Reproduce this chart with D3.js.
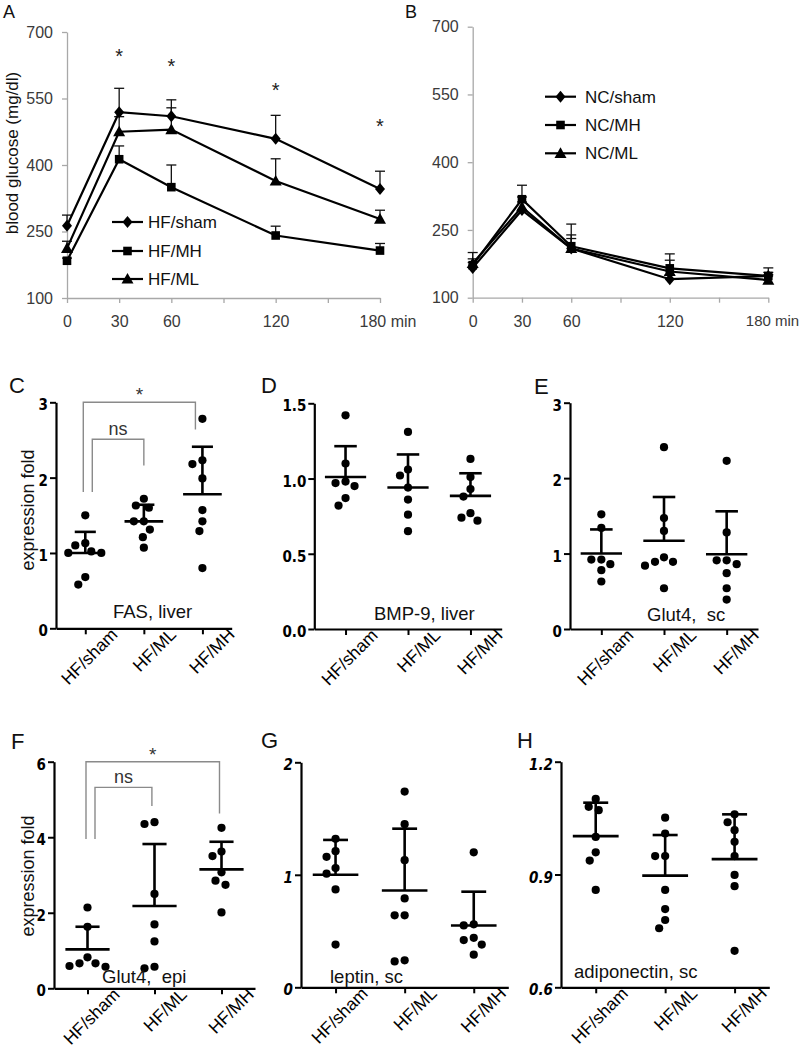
<!DOCTYPE html>
<html><head><meta charset="utf-8">
<script src="https://cdn.jsdelivr.net/npm/d3@7"></script>
<style>
body{margin:0;background:#fff;}
svg{display:block;font-family:"Liberation Sans",Arial,sans-serif;}
</style></head><body>
<svg id="chart" width="800" height="1050"></svg>
<script>
// ================= DATA =================
const timePoints = [0, 30, 60, 120, 180];
const timeTicks = [0, 30, 60, 90, 120, 150, 180];
const timeLabels = [0, 30, 60, 120, 180];
const glucoseTicks = [100, 250, 400, 550, 700];

// Panel A (HF)
const hfNames = ["HF/sham", "HF/MH", "HF/ML"];
const hfSham = [263, 519, 510, 459, 346];
const hfShamErr = [24, 54, 37, 53, 40];
const hfMH = [184, 413, 350, 241, 207];
const hfMHErr = [6, 30, 50, 21, 16];
const hfML = [212, 475, 480, 364, 278];
const hfMLErr = [16, 34, 49, 50, 20];
const hfStarTimes = [30, 60, 120, 180];
const hfStarLevels = [655, 632, 578, 497];

// Panel B (NC)
const ncNames = ["NC/sham", "NC/MH", "NC/ML"];
const ncSham = [166, 294, 209, 141, 148];
const ncShamErr = [12, 18, 22, 10, 8];
const ncMH = [172, 318, 214, 165, 148];
const ncMHErr = [14, 31, 49, 32, 18];
const ncML = [176, 301, 209, 158, 139];
const ncMLErr = [24, 22, 30, 25, 12];

// Dot panels
const groups = ["HF/sham", "HF/ML", "HF/MH"];

const fasTicks = [0, 1, 2, 3];
const fasSham = [1.50, 1.13, 1.10, 1.02, 1.00, 1.00, 0.68, 0.58];
const fasML = [1.72, 1.63, 1.60, 1.42, 1.42, 1.31, 1.21, 1.07];
const fasMH = [2.78, 2.23, 2.18, 1.99, 1.57, 1.42, 1.29, 0.80];
const fasMean = [1.00, 1.42, 1.78];
const fasSD = [0.28, 0.22, 0.63];

const bmpTicks = [0, 0.5, 1.0, 1.5];
const bmpSham = [1.42, 1.10, 0.98, 0.97, 0.95, 0.87, 0.82];
const bmpML = [1.31, 1.06, 1.02, 0.94, 0.86, 0.76, 0.65];
const bmpMH = [1.13, 1.01, 0.93, 0.88, 0.77, 0.74, 0.72];
const bmpMean = [1.01, 0.94, 0.885];
const bmpSD = [0.205, 0.22, 0.15];

const gscTicks = [0, 1, 2, 3];
const gscSham = [1.52, 1.34, 0.92, 0.92, 0.86, 0.78, 0.63];
const gscML = [2.41, 1.47, 1.30, 0.95, 0.89, 0.89, 0.84, 0.54];
const gscMH = [2.23, 1.28, 0.91, 0.91, 0.86, 0.74, 0.54, 0.39];
const gscMean = [1.00, 1.17, 0.99];
const gscSD = [0.32, 0.58, 0.57];

const gepiTicks = [0, 2, 4, 6];
const gepiSham = [2.14, 1.63, 0.82, 0.66, 0.66, 0.59, 0.57];
const gepiML = [4.40, 4.35, 2.50, 1.69, 1.24, 0.57, 0.53];
const gepiMH = [4.25, 3.62, 3.50, 3.07, 2.85, 2.74, 2.01];
const gepiMean = [1.03, 2.18, 3.15];
const gepiSD = [0.60, 1.64, 0.73];

const leptinTicks = [0, 1, 2];
const leptinSham = [1.32, 1.21, 1.16, 1.06, 1.01, 0.87, 0.38];
const leptinML = [1.74, 1.45, 1.13, 0.79, 0.64, 0.64, 0.24, 0.23];
const leptinMH = [1.20, 0.56, 0.55, 0.44, 0.42, 0.38, 0.29];
const leptinMean = [1.00, 0.86, 0.55];
const leptinSD = [0.31, 0.55, 0.30];

const adipoTicks = [0.6, 0.9, 1.2];
const adipoSham = [1.101, 1.080, 1.071, 1.000, 0.959, 0.937, 0.859];
const adipoML = [1.051, 1.009, 0.949, 0.949, 0.859, 0.808, 0.779, 0.757];
const adipoMH = [1.060, 1.039, 1.018, 0.987, 0.949, 0.899, 0.869, 0.697];
const adipoMean = [1.002, 0.897, 0.941];
const adipoSD = [0.089, 0.108, 0.119];

// significance brackets: [groupA, groupB, top, legA bottom, legB bottom, label]
const fasSig = [[0, 1, 2.51, 1.81, 2.16, "ns"], [0, 2, 3.0, 1.81, 2.64, "*"]];
const gepiSig = [[0, 1, 5.32, 3.95, 4.83, "ns"], [0, 2, 6.0, 3.95, 4.63, "*"]];

// ================= DRAWING =================
const svg = d3.select("#chart");
const FONT = '"Liberation Sans",Arial,sans-serif';
const NARROW = '"Liberation Sans Narrow","DejaVu Sans Condensed","Arial Narrow",sans-serif';

const markerPath = {
  diamond: "M0,-6L5,0L0,6L-5,0Z",
  square: "M-4.3,-4.3H4.3V4.3H-4.3Z",
  triangle: "M0,-6L6,4.6H-6Z"
};
const markerKeys = ["diamond", "square", "triangle"];

function linePanel(cfg) {
  const g = svg.append("g");
  const x = d3.scaleLinear().domain([0, 180]).range([cfg.x0, cfg.x1]);
  const y = d3.scaleLinear().domain([100, 700]).range([cfg.yBot, cfg.yTop]);
  const ya = g.append("g").attr("transform", `translate(${cfg.x0},0)`)
    .call(d3.axisLeft(y).tickValues(glucoseTicks).tickSize(5).tickPadding(9).tickSizeOuter(0));
  const xa = g.append("g").attr("transform", `translate(0,${cfg.yBot})`)
    .call(d3.axisBottom(x).tickValues(timeTicks).tickSize(5).tickPadding(13).tickSizeOuter(0)
      .tickFormat(d => timeLabels.includes(d) ? (d === 180 ? "180 min" : String(d)) : ""));
  [ya, xa].forEach(a => {
    a.select(".domain").attr("stroke", "#a8a8a8").attr("stroke-width", 1.3);
    a.selectAll(".tick line").attr("stroke", "#a8a8a8").attr("stroke-width", 1.3);
    a.selectAll(".tick text").attr("fill", "#3a3a3a").style("font-family", FONT).style("font-size", "16px");
  });
  xa.selectAll(".tick text").filter(d => d === 180).attr("text-anchor", "start").attr("dx", cfg.lastDx)
    .style("font-size", cfg.lastSize);

  // error bars
  cfg.series.forEach((s) => {
    s.vals.forEach((v, i) => {
      const xx = x(timePoints[i]), y0 = y(v), y1 = y(v + s.err[i]);
      g.append("line").attr("x1", xx).attr("x2", xx).attr("y1", y0).attr("y2", y1)
        .attr("stroke", "#111").attr("stroke-width", 1.3);
      g.append("line").attr("x1", xx - 5).attr("x2", xx + 5).attr("y1", y1).attr("y2", y1)
        .attr("stroke", "#111").attr("stroke-width", 1.3);
    });
  });
  const line = d3.line().x((d, i) => x(timePoints[i])).y(d => y(d));
  cfg.series.forEach((s, k) => {
    g.append("path").attr("d", line(s.vals)).attr("fill", "none").attr("stroke", "#000").attr("stroke-width", 2.2);
  });
  cfg.series.forEach((s, k) => {
    g.selectAll(null).data(s.vals).enter().append("path")
      .attr("d", markerPath[markerKeys[k]])
      .attr("transform", (d, i) => `translate(${x(timePoints[i])},${y(d)})`)
      .attr("fill", "#000");
  });
  // legend
  cfg.series.forEach((s, k) => {
    const ly = cfg.legY[k];
    g.append("line").attr("x1", cfg.legX).attr("x2", cfg.legX + 31).attr("y1", ly).attr("y2", ly)
      .attr("stroke", "#000").attr("stroke-width", 2.2);
    g.append("path").attr("d", markerPath[markerKeys[k]]).attr("transform", `translate(${cfg.legX + 15.5},${ly})`);
    g.append("text").attr("x", cfg.legX + cfg.legGap).attr("y", ly).attr("dy", "0.36em")
      .style("font-size", "17px").attr("fill", "#111").text(s.name);
  });
  if (cfg.stars) {
    cfg.stars.times.forEach((t, i) => {
      g.append("text").attr("x", x(t)).attr("y", y(cfg.stars.levels[i]) + 11)
        .attr("text-anchor", "middle").style("font-size", "20px").attr("fill", "#222").text("*");
    });
  }
  g.append("text").attr("x", cfg.letterX).attr("y", 18).style("font-size", "18px").attr("fill", "#111").text(cfg.letter);
  if (cfg.ylabel) {
    g.append("text").attr("transform", `translate(${cfg.ylabelX},${(cfg.yTop + cfg.yBot) / 2 - 12}) rotate(-90)`)
      .attr("text-anchor", "middle").attr("dy", "0.35em").style("font-size", "17px").attr("fill", "#111").text(cfg.ylabel);
  }
}

linePanel({
  x0: 67, x1: 380, yTop: 32, yBot: 298, letter: "A", letterX: 3,
  ylabel: "blood glucose (mg/dl)", ylabelX: 12, lastDx: -21, lastSize: "16px",
  series: [
    { name: hfNames[0], vals: hfSham, err: hfShamErr },
    { name: hfNames[1], vals: hfMH, err: hfMHErr },
    { name: hfNames[2], vals: hfML, err: hfMLErr }
  ],
  legX: 112, legGap: 36, legY: [222, 251, 279],
  stars: { times: hfStarTimes, levels: hfStarLevels }
});
linePanel({
  x0: 472.7, x1: 768.3, yTop: 26.7, yBot: 297.7, letter: "B", letterX: 405,
  lastDx: -23, lastSize: "15px",
  series: [
    { name: ncNames[0], vals: ncSham, err: ncShamErr },
    { name: ncNames[1], vals: ncMH, err: ncMHErr },
    { name: ncNames[2], vals: ncML, err: ncMLErr }
  ],
  legX: 545, legGap: 40, legY: [96.7, 125, 153.3]
});

function swarm(values, y, minDist) {
  const pts = values.map(v => ({ v, py: y(v) })).sort((a, b) => a.py - b.py);
  const placed = [];
  pts.forEach(p => {
    let off = 0;
    for (let k = 0; k < 400; k++) {
      const o = k === 0 ? 0 : (k % 2 === 1 ? -Math.ceil(k / 2) : Math.ceil(k / 2));
      if (placed.every(q => Math.hypot(q.dx - o, q.py - p.py) >= minDist)) { off = o; break; }
    }
    p.dx = off; placed.push(p);
  });
  return placed;
}

function dotPanel(cfg) {
  const g = svg.append("g");
  const x = d3.scalePoint().domain(groups).range([cfg.x0, cfg.x1]).padding(0.5);
  const y = d3.scaleLinear().domain(cfg.domain).range([cfg.yBot, cfg.yTop]);
  const step = x.step();
  const ya = g.append("g").attr("transform", `translate(${cfg.x0},0)`)
    .call(d3.axisLeft(y).tickValues(cfg.ticks).tickSize(6).tickPadding(2).tickSizeOuter(0).tickFormat(cfg.fmt));
  const xa = g.append("g").attr("transform", `translate(0,${cfg.yBot})`)
    .call(d3.axisBottom(x).tickSize(6).tickSizeOuter(0).tickFormat(""));
  [ya, xa].forEach(a => {
    a.select(".domain").attr("stroke", "#000").attr("stroke-width", 2.2);
    a.selectAll(".tick line").attr("stroke", "#000").attr("stroke-width", 2);
  });
  ya.selectAll(".tick text").attr("fill", "#000").attr("dy", "0.5em")
    .style("font-family", NARROW).style("font-size", "15px").style("font-weight", "bold")
    .style("font-style", cfg.italic ? "italic" : "normal");
  // category labels
  groups.forEach(gr => {
    g.append("text").attr("transform", `translate(${x(gr) + 29},${cfg.yBot + 3}) rotate(-45)`)
      .attr("text-anchor", "end").attr("dy", "0.35em").style("font-size", "17.5px").attr("fill", "#000").text(gr);
  });
  // dots
  cfg.data.forEach((vals, k) => {
    const cx = x(groups[k]);
    const pts = swarm(vals, y, 10);
    g.selectAll(null).data(pts).enter().append("circle")
      .attr("cx", d => cx + d.dx).attr("cy", d => d.py).attr("r", 4.1).attr("fill", "#000");
    const mw = step * 0.33, cw = step * 0.18;
    const ym = y(cfg.mean[k]), ys = y(cfg.mean[k] + cfg.sd[k]);
    g.append("line").attr("x1", cx - mw).attr("x2", cx + mw).attr("y1", ym).attr("y2", ym).attr("stroke", "#000").attr("stroke-width", 2.6);
    g.append("line").attr("x1", cx).attr("x2", cx).attr("y1", ym).attr("y2", ys).attr("stroke", "#000").attr("stroke-width", 2.6);
    g.append("line").attr("x1", cx - cw).attr("x2", cx + cw).attr("y1", ys).attr("y2", ys).attr("stroke", "#000").attr("stroke-width", 2.6);
  });
  // brackets
  if (cfg.sig) {
    cfg.sig.forEach((s, i) => {
      const off = cfg.sigOff[i];
      const xa_ = x(groups[s[0]]) + off[0], xb = x(groups[s[1]]) + off[1];
      const yt = y(s[2]);
      g.append("path").attr("d", `M${xa_},${y(s[3])}V${yt}H${xb}V${y(s[4])}`)
        .attr("fill", "none").attr("stroke", "#8a8a8a").attr("stroke-width", 1.4);
      const lab = s[5];
      g.append("text").attr("x", (xa_ + xb) / 2).attr("y", lab === "*" ? yt - 1 : yt - 4)
        .attr("text-anchor", "middle").style("font-size", lab === "*" ? "19px" : "18px")
        .attr("fill", "#333").text(lab);
    });
  }
  g.append("text").attr("x", cfg.labX).attr("y", cfg.labY).style("font-size", "18.5px")
    .style("white-space", "pre").attr("xml:space", "preserve").attr("fill", "#111").text(cfg.label);
  g.append("text").attr("x", cfg.letterX).attr("y", cfg.letterY).style("font-size", "22px").attr("fill", "#111").text(cfg.letter);
  if (cfg.ylabel) {
    g.append("text").attr("transform", `translate(28,${cfg.ylabelY}) rotate(-90)`)
      .attr("text-anchor", "middle").attr("dy", "0.35em").style("font-size", "18px").attr("fill", "#111").text(cfg.ylabel);
  }
}

const f1 = d3.format("d"), f2 = d3.format(".1f");
dotPanel({ x0: 56, x1: 231.7, yTop: 402.3, yBot: 628.3, domain: [0, 3], ticks: fasTicks, fmt: f1,
  data: [fasSham, fasML, fasMH], mean: fasMean, sd: fasSD, sig: fasSig, sigOff: [[7, 0], [-2, -7]],
  label: "FAS, liver", labX: 113, labY: 618, letter: "C", letterX: 9, letterY: 393,
  ylabel: "expression fold", ylabelY: 510 });
dotPanel({ x0: 314.3, x1: 501.7, yTop: 403.3, yBot: 629, domain: [0, 1.5], ticks: bmpTicks, fmt: f2,
  data: [bmpSham, bmpML, bmpMH], mean: bmpMean, sd: bmpSD,
  label: "BMP-9, liver", labX: 374, labY: 620, letter: "D", letterX: 261, letterY: 393 });
dotPanel({ x0: 570, x1: 758, yTop: 402.7, yBot: 629, domain: [0, 3], ticks: gscTicks, fmt: f1,
  data: [gscSham, gscML, gscMH], mean: gscMean, sd: gscSD,
  label: "Glut4,  sc", labX: 647, labY: 621, letter: "E", letterX: 534, letterY: 394 });
dotPanel({ x0: 54, x1: 255, yTop: 761.7, yBot: 988.3, domain: [0, 6], ticks: gepiTicks, fmt: f1,
  data: [gepiSham, gepiML, gepiMH], mean: gepiMean, sd: gepiSD, sig: gepiSig, sigOff: [[7.5, -2.6], [-1.5, -2]],
  label: "Glut4,  epi", labX: 102, labY: 983, letter: "F", letterX: 11, letterY: 749,
  ylabel: "expression fold", ylabelY: 876 });
dotPanel({ x0: 301, x1: 508.3, yTop: 762.3, yBot: 987.3, domain: [0, 2], ticks: leptinTicks, fmt: f1, italic: true,
  data: [leptinSham, leptinML, leptinMH], mean: leptinMean, sd: leptinSD,
  label: "leptin, sc", labX: 330, labY: 983, letter: "G", letterX: 261, letterY: 748 });
dotPanel({ x0: 561, x1: 769.3, yTop: 761.7, yBot: 987.3, domain: [0.6, 1.2], ticks: adipoTicks, fmt: f2, italic: true,
  data: [adipoSham, adipoML, adipoMH], mean: adipoMean, sd: adipoSD,
  label: "adiponectin, sc", labX: 574, labY: 978, letter: "H", letterX: 517, letterY: 748 });
</script>
</body></html>
